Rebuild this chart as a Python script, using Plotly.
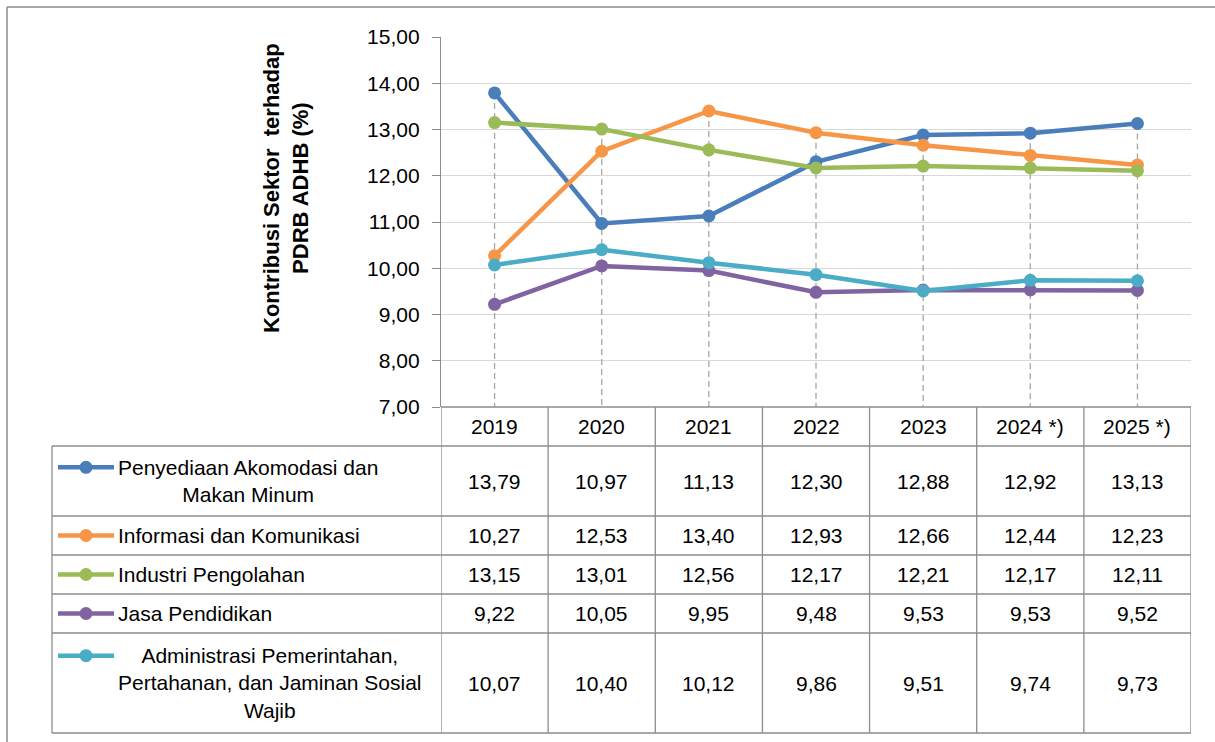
import plotly.graph_objects as go

W, H = 1215, 742

years = ["2019", "2020", "2021", "2022", "2023", "2024 *)", "2025 *)"]
series_names = [
    "Penyediaan Akomodasi dan<br>Makan Minum",
    "Informasi dan Komunikasi",
    "Industri Pengolahan",
    "Jasa Pendidikan",
    "Administrasi Pemerintahan,<br>Pertahanan, dan Jaminan Sosial<br>Wajib",
]
akomodasi = [13.79, 10.97, 11.13, 12.30, 12.88, 12.92, 13.13]
infokom = [10.27, 12.53, 13.40, 12.93, 12.66, 12.44, 12.23]
industri = [13.15, 13.01, 12.56, 12.17, 12.21, 12.17, 12.11]
pendidikan = [9.22, 10.05, 9.95, 9.48, 9.53, 9.53, 9.52]
administrasi = [10.07, 10.40, 10.12, 9.86, 9.51, 9.74, 9.73]
series_values = [akomodasi, infokom, industri, pendidikan, administrasi]
colors = ["#4A7EBB", "#F79646", "#9BBB59", "#8064A2", "#4BACC6"]

y_title = "Kontribusi Sektor  terhadap<br>PDRB ADHB (%)"

FONT = "Liberation Sans, Arial, sans-serif"
FS = 21

def PX(x):
    return x / W

def PY(y):
    return 1 - y / H

# layout geometry (pixels)
plot_left, plot_right = 441, 1191
plot_top, plot_bottom = 37, 407
table_left = 52
row_edges = [446, 516, 555, 594, 633, 733]
legend_text_x = 116
sym_x0, sym_x1 = 58, 114
line_step = 27.3
grid_col = "#D9D9D9"
border_col = "#8C8C8C"

fig = go.Figure()

xs = list(range(len(years)))

# drop lines (from highest point of each category down to axis)
for i in xs:
    top = max(v[i] for v in series_values)
    fig.add_trace(go.Scatter(x=[i, i], y=[top, 7], mode="lines",
                             line=dict(color="#A6A6A6", width=1.3, dash="6px,4px"),
                             hoverinfo="skip", showlegend=False))

for name, vals, col in zip(series_names, series_values, colors):
    fig.add_trace(go.Scatter(x=xs, y=vals, mode="lines+markers",
                             name=name.replace("<br>", " "),
                             line=dict(color=col, width=4.5),
                             marker=dict(color=col, size=13),
                             showlegend=False))

shapes = []
annotations = []

# table horizontal lines
for ye in row_edges:
    shapes.append(dict(type="line", xref="paper", yref="paper",
                       x0=PX(table_left), x1=PX(plot_right), y0=PY(ye), y1=PY(ye),
                       line=dict(color=border_col, width=1.3)))
# header top line (x axis)
shapes.append(dict(type="line", xref="paper", yref="paper",
                   x0=PX(plot_left), x1=PX(plot_right), y0=PY(plot_bottom), y1=PY(plot_bottom),
                   line=dict(color=border_col, width=1.3)))
# column boundaries
for k in range(len(years) + 1):
    shapes.append(dict(type="line", xref="x", yref="paper",
                       x0=k - 0.5, x1=k - 0.5, y0=PY(plot_bottom), y1=PY(row_edges[-1]),
                       line=dict(color=border_col, width=1.3)))
# left table edge
shapes.append(dict(type="line", xref="paper", yref="paper",
                   x0=PX(table_left), x1=PX(table_left), y0=PY(row_edges[0]), y1=PY(row_edges[-1]),
                   line=dict(color=border_col, width=1.3)))
# outer chart border (top & left)
shapes.append(dict(type="line", xref="paper", yref="paper",
                   x0=PX(7), x1=1.0, y0=PY(7), y1=PY(7),
                   line=dict(color="#8C8C8C", width=1.5)))
shapes.append(dict(type="line", xref="paper", yref="paper",
                   x0=PX(7), x1=PX(7), y0=PY(7), y1=0.0,
                   line=dict(color="#8C8C8C", width=1.5)))

# header labels
for i, yr in enumerate(years):
    annotations.append(dict(x=i, y=PY((plot_bottom + row_edges[0]) / 2), xref="x", yref="paper",
                            text=yr, showarrow=False, font=dict(size=FS, color="black", family=FONT),
                            xanchor="center", yanchor="middle"))

# value rows + legend keys
n_lines = [2, 1, 1, 1, 3]
for r, (name, vals, col) in enumerate(zip(series_names, series_values, colors)):
    top, bot = row_edges[r], row_edges[r + 1]
    yc = (top + bot) / 2
    for i, v in enumerate(vals):
        annotations.append(dict(x=i, y=PY(yc), xref="x", yref="paper",
                                text=f"{v:.2f}".replace(".", ","), showarrow=False,
                                font=dict(size=FS, color="black", family=FONT),
                                xanchor="center", yanchor="middle"))
    annotations.append(dict(x=PX(legend_text_x), y=PY(yc), xref="paper", yref="paper",
                            text=name, showarrow=False, align="center",
                            font=dict(size=FS, color="black", family=FONT),
                            xanchor="left", yanchor="middle"))
    # symbol at first text line
    nl = n_lines[r]
    sym_y = yc - (nl - 1) * line_step / 2
    shapes.append(dict(type="line", xref="paper", yref="paper",
                       x0=PX(sym_x0), x1=PX(sym_x1), y0=PY(sym_y), y1=PY(sym_y),
                       line=dict(color=col, width=4.5)))
    cx = (sym_x0 + sym_x1) / 2
    rr = 6.5
    shapes.append(dict(type="circle", xref="paper", yref="paper",
                       x0=PX(cx - rr), x1=PX(cx + rr), y0=PY(sym_y + rr), y1=PY(sym_y - rr),
                       fillcolor=col, line=dict(color=col, width=0)))

# y-axis title
annotations.append(dict(x=PX(286), y=PY(188), xref="paper", yref="paper",
                        text=f"<b>{y_title}</b>", textangle=-90, showarrow=False,
                        font=dict(size=22, color="black", family=FONT),
                        xanchor="center", yanchor="middle", align="center"))

fig.update_layout(
    width=W, height=H,
    margin=dict(l=0, r=0, t=0, b=0, pad=0, autoexpand=False),
    paper_bgcolor="white", plot_bgcolor="white",
    separators=",.",
    showlegend=False,
    font=dict(family=FONT, size=FS, color="black"),
    xaxis=dict(domain=[PX(plot_left), PX(plot_right)], range=[-0.5, 6.5], automargin=False,
               showticklabels=False, showgrid=False, zeroline=False, showline=False, fixedrange=True),
    yaxis=dict(domain=[PY(plot_bottom), PY(plot_top)], range=[7, 15], dtick=1, tick0=7,
               automargin=False,
               tickformat=".2f", showgrid=True, gridcolor=grid_col, gridwidth=1.3,
               zeroline=False, showline=True, linecolor=border_col, linewidth=1.3,
               ticks="outside", ticklen=8, tickcolor=border_col, ticklabelstandoff=8,
               tickfont=dict(size=FS, color="black", family=FONT)),
    shapes=shapes,
    annotations=annotations,
)

fig.write_html("out.html")
